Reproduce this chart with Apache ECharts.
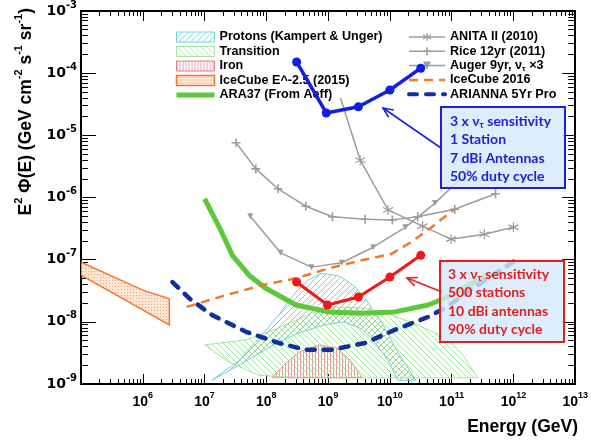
<!DOCTYPE html>
<html>
<head>
<meta charset="utf-8">
<script src="https://cdn.jsdelivr.net/npm/echarts@6/dist/echarts.min.js"></script>
<style>
  html, body { margin: 0; padding: 0; background: #fff; }
  #chart { width: 591px; height: 441px; }
</style>
</head>
<body>
<div id="chart"></div>
<script>
// all values are [log10(E / GeV), log10(E^2 Phi / GeV cm^-2 s^-1 sr^-1)]
var protonsUpper = [[7.12,-8.94],[7.56,-8.62],[7.93,-8.21],[8.20,-7.89],[8.48,-7.52],[8.68,-7.33],[8.89,-7.22],[9.17,-7.26],[9.41,-7.41],[9.60,-7.62],[9.89,-8.05],[10.13,-8.49],[10.42,-8.94]];
var protonsLower = [[7.12,-8.94],[7.64,-8.65],[8.12,-8.37],[8.52,-8.18],[8.93,-8.05],[9.25,-8.00],[9.52,-8.10],[9.73,-8.29],[9.97,-8.62],[10.13,-8.94]];
var transitionUpper = [[7.00,-8.37],[7.67,-8.29],[8.20,-8.10],[8.73,-7.86],[9.17,-7.76],[9.60,-7.78],[10.08,-7.91],[10.45,-8.05],[10.89,-8.25],[11.18,-8.53],[11.42,-8.90]];
var transitionLower = [[7.00,-8.37],[7.40,-8.65],[7.88,-8.86],[8.52,-8.90],[11.42,-8.90]];
var ironUpper = [[8.09,-8.90],[8.28,-8.70],[8.52,-8.49],[8.85,-8.37],[9.14,-8.42],[9.36,-8.62],[9.55,-8.90]];
var ironLower = [[8.09,-8.90],[9.55,-8.90]];
var icecube2015Upper = [[5.00,-7.04],[6.00,-7.49],[6.43,-7.63]];
var icecube2015Lower = [[5.00,-7.25],[6.43,-8.05]];

var ara37 = [[7.00,-6.02],[7.24,-6.48],[7.45,-6.93],[7.72,-7.25],[7.99,-7.46],[8.48,-7.73],[9.01,-7.84],[9.54,-7.86],[10.08,-7.84],[10.62,-7.73],[10.89,-7.62],[11.42,-7.33],[11.58,-7.25]];
var icecube2016 = [[6.71,-7.76],[7.35,-7.57],[7.93,-7.41],[8.48,-7.30],[9.01,-7.14],[9.54,-7.01],[10.02,-6.91],[10.34,-6.72],[10.66,-6.49],[11.03,-6.20]];
var arianna = [[6.48,-7.36],[6.75,-7.62],[7.12,-7.89],[7.67,-8.16],[8.20,-8.34],[8.64,-8.45],[9.05,-8.45],[9.60,-8.34],[10.08,-8.13],[10.62,-7.92],[10.89,-7.78],[11.42,-7.41],[12.11,-6.96]];
var anita = [[9.20,-4.40],[9.52,-5.40],[9.97,-6.20],[10.53,-6.46],[10.99,-6.67],[11.53,-6.59],[12.00,-6.48]];
var rice = [[7.51,-5.12],[7.83,-5.54],[8.19,-5.86],[8.64,-6.14],[9.07,-6.31],[9.60,-6.35],[10.04,-6.36],[10.45,-6.31],[11.05,-6.19],[11.71,-5.94]];
var auger = [[7.74,-6.30],[8.23,-6.89],[8.73,-7.12],[9.22,-7.05],[9.73,-6.80],[10.25,-6.48],[10.73,-6.09],[11.26,-5.59]];
var oneStation = [[8.49,-3.82],[8.97,-4.64],[9.49,-4.54],[10.00,-4.27],[10.50,-3.92]];
var fiveHundred = [[8.49,-7.36],[8.99,-7.73],[9.49,-7.60],[10.00,-7.28],[10.50,-6.93]];

var xMin = 5, xMax = 13, yMin = -9, yMax = -3;

// log-spaced minor ticks (2..9 in each decade)
function minorTicks(lo, hi) {
    var out = [];
    for (var n = lo; n < hi; n++) {
        for (var k = 2; k <= 9; k++) out.push(n + Math.log10(k));
    }
    return out;
}
var xMinor = minorTicks(xMin, xMax);
var yMinor = minorTicks(yMin, yMax);

// small canvas tiles for the hatched bands
function hatch(kind, color, bg) {
    var s = kind === 'vert' ? 3 : (kind === 'dots' ? 3 : 6);
    var c = document.createElement('canvas');
    c.width = s; c.height = s;
    var g = c.getContext('2d');
    if (bg) { g.fillStyle = bg; g.fillRect(0, 0, s, s); }
    g.strokeStyle = color;
    g.lineWidth = 1;
    g.beginPath();
    if (kind === 'up') {
        g.moveTo(0, s); g.lineTo(s, 0);
        g.moveTo(-1, 1); g.lineTo(1, -1);
        g.moveTo(s - 1, s + 1); g.lineTo(s + 1, s - 1);
    } else if (kind === 'down') {
        g.moveTo(0, 0); g.lineTo(s, s);
        g.moveTo(s - 1, -1); g.lineTo(s + 1, 1);
        g.moveTo(-1, s - 1); g.lineTo(1, s + 1);
    } else if (kind === 'vert') {
        g.moveTo(0.5, 0); g.lineTo(0.5, s);
    }
    g.stroke();
    if (kind === 'dots') { g.fillStyle = color; g.fillRect(1, 1, 1, 1); }
    return { image: c, repeat: 'repeat' };
}

var cyanFill = hatch('up', '#74d2de');
var greenFill = hatch('down', '#a6e6a0');
var redFill = hatch('vert', '#eb9aa6');
var orangeFill = hatch('dots', '#f2a574', '#fde6d6');

function band(name, upper, lower, fill, stroke, lw) {
    var pts = upper.concat(lower.slice().reverse());
    return {
        name: name,
        type: 'custom',
        z: 1,
        silent: true,
        clip: true,
        itemStyle: { color: fill, borderColor: stroke, borderWidth: lw },
        data: pts,
        renderItem: function (params, api) {
            if (params.dataIndex !== 0) return null;
            return {
                type: 'polygon',
                shape: { points: pts.map(function (p) { return api.coord(p); }) },
                style: { fill: fill, stroke: stroke, lineWidth: lw }
            };
        }
    };
}

var gray = '#9c9c9c';
var asterisk = 'path://M5,0L5,10M0.7,2.5L9.3,7.5M0.7,7.5L9.3,2.5';
var plus = 'path://M5,0L5,10M0,5L10,5';
var tri = 'path://M0,0L10,0L5,9Z';

function xAx(pos, minor) {
    return {
        type: 'value', min: xMin, max: xMax, interval: 1, position: pos,
        axisLine: { show: !minor, onZero: false, lineStyle: { color: '#000', width: 2 } },
        axisTick: minor ? { inside: true, length: 5, customValues: xMinor, lineStyle: { color: '#000' } }
                        : { inside: true, length: 10, lineStyle: { color: '#000' } },
        axisLabel: (pos === 'bottom' && !minor) ? {
            margin: 7,
            formatter: function (v) { return v < 6 ? '' : '{b|10}{s|' + v + '}'; },
            rich: {
                b: { fontFamily: 'Liberation Sans', fontWeight: 'bold', fontSize: 14, lineHeight: 22, color: '#000' },
                s: { fontFamily: 'Liberation Sans', fontWeight: 'bold', fontSize: 9, lineHeight: 10, verticalAlign: 'top', color: '#000' }
            }
        } : { show: false },
        splitLine: { show: false }
    };
}
function yAx(pos, minor) {
    return {
        type: 'value', min: yMin, max: yMax, interval: 1, position: pos,
        axisLine: { show: !minor, onZero: false, lineStyle: { color: '#000', width: 2 } },
        axisTick: minor ? { inside: true, length: 7, customValues: yMinor, lineStyle: { color: '#000' } }
                        : { inside: true, length: pos === 'left' ? 15 : 13, lineStyle: { color: '#000' } },
        axisLabel: (pos === 'left' && !minor) ? {
            margin: 4,
            formatter: function (v) { return '{b|10}{s|' + v + '}'; },
            rich: {
                b: { fontFamily: 'DejaVu Sans', fontWeight: 'bold', fontSize: 14, lineHeight: 22, color: '#000' },
                s: { fontFamily: 'DejaVu Sans', fontWeight: 'bold', fontSize: 10, lineHeight: 10, verticalAlign: 'top', color: '#000' }
            }
        } : { show: false },
        splitLine: { show: false }
    };
}

function arrow(x1, y1, x2, y2, color) {
    var a = Math.atan2(y2 - y1, x2 - x1), h = 11, w = 0.42;
    return [
        { type: 'line', z: 60, shape: { x1: x1, y1: y1, x2: x2, y2: y2 }, style: { stroke: color, lineWidth: 1.6 } },
        { type: 'polyline', z: 60, shape: { points: [
            [x2 - h * Math.cos(a - w), y2 - h * Math.sin(a - w)], [x2, y2],
            [x2 - h * Math.cos(a + w), y2 - h * Math.sin(a + w)]] },
          style: { stroke: color, lineWidth: 1.6, fill: null } }
    ];
}

function noteBox(x, y, w, h, color, lines, tx, ty) {
    var out = [{ type: 'rect', z: 60, shape: { x: x, y: y, width: w, height: h },
                 style: { fill: 'rgba(214,233,250,0.82)', stroke: color, lineWidth: 2 } }];
    lines.forEach(function (t, i) {
        out.push({
            type: 'text', z: 61, x: tx, y: ty + i * 18.5,
            style: {
                text: t, verticalAlign: 'middle', fill: color,
                rich: {
                    a: { fontFamily: 'Lato', fontWeight: 'bold', fontSize: 14, lineHeight: 18, fill: color },
                    t: { fontFamily: 'Lato', fontWeight: 'bold', fontSize: 9, lineHeight: 8, verticalAlign: 'bottom', fill: color }
                }
            }
        });
    });
    return out;
}

// line-only legend entries: hide the default marker
var noMark = { opacity: 0 };

var chart = echarts.init(document.getElementById('chart'));
chart.setOption({
    animation: false,
    backgroundColor: '#fff',
    grid: { left: 81, right: 13, top: 11, bottom: 57, containLabel: false },
    xAxis: [xAx('bottom', false), xAx('bottom', true), xAx('top', false), xAx('top', true)],
    yAxis: [yAx('left', false), yAx('left', true), yAx('right', false), yAx('right', true)],
    legend: [{
        orient: 'vertical', left: 169, top: 25, itemWidth: 38, itemHeight: 10, itemGap: 0.5, z: 1,
        selectedMode: false,
        textStyle: { fontFamily: 'Liberation Sans', fontWeight: 'bold', fontSize: 12.6, color: '#000', lineHeight: 14 },
        data: [
            { name: 'Protons (Kampert & Unger)', icon: 'rect', itemStyle: { borderColor: '#74d2de', borderWidth: 1 } },
            { name: 'Transition', icon: 'rect', itemStyle: { borderColor: '#a6e6a0', borderWidth: 1 } },
            { name: 'Iron', icon: 'rect', itemStyle: { borderColor: '#e07a8a', borderWidth: 1 } },
            { name: 'IceCube E^-2.5 (2015)', icon: 'rect', itemStyle: { borderColor: '#ee7a30', borderWidth: 1.5 } },
            { name: 'ARA37 (From Aeff)', lineStyle: { width: 5 }, itemStyle: noMark }
        ]
    }, {
        orient: 'vertical', left: 402, top: 25, itemWidth: 36, itemHeight: 10, itemGap: 0.3, z: 1,
        selectedMode: false,
        textStyle: {
            fontFamily: 'Liberation Sans', fontWeight: 'bold', fontSize: 12.6, color: '#000', lineHeight: 14,
            rich: {
                a: { fontFamily: 'Liberation Sans', fontWeight: 'bold', fontSize: 12.6, lineHeight: 14, color: '#000' },
                t: { fontFamily: 'Liberation Sans', fontWeight: 'bold', fontSize: 8, lineHeight: 6, verticalAlign: 'bottom', color: '#000' }
            }
        },
        formatter: function (name) {
            return name === 'Auger 9yr' ? '{a|Auger 9yr, ν}{t|τ}{a| ×3}' : name;
        },
        data: [
            { name: 'ANITA II (2010)', lineStyle: { width: 1.5 }, itemStyle: { borderColor: gray, borderWidth: 1.2 } },
            { name: 'Rice 12yr (2011)', lineStyle: { width: 1.5 }, itemStyle: { borderColor: gray, borderWidth: 1.6 } },
            { name: 'Auger 9yr', lineStyle: { width: 1.5 } },
            { name: 'IceCube 2016', lineStyle: { width: 2.5 }, itemStyle: noMark },
            { name: 'ARIANNA 5Yr Pro', lineStyle: { width: 4 }, itemStyle: noMark }
        ]
    }],
    series: [
        band('Transition', transitionUpper, transitionLower, greenFill, '#a6e6a0', 1),
        band('Protons (Kampert & Unger)', protonsUpper, protonsLower, cyanFill, '#74d2de', 1),
        band('Iron', ironUpper, ironLower, redFill, '#eb9aa6', 1),
        band('IceCube E^-2.5 (2015)', icecube2015Upper, icecube2015Lower, orangeFill, '#ee7a30', 1.5),
        {
            name: 'ARA37 (From Aeff)', type: 'line', z: 3, data: ara37, showSymbol: false, symbol: 'none',
            lineStyle: { color: '#5cc83a', width: 5 }, itemStyle: { color: '#5cc83a' }
        },
        {
            name: 'ANITA II (2010)', type: 'line', z: 4,
            data: anita.map(function (p, i) { return i === 0 ? { value: p, symbol: 'none' } : p; }),
            symbol: asterisk, symbolSize: 10,
            lineStyle: { color: gray, width: 1.5 }, itemStyle: { color: gray, borderColor: gray, borderWidth: 1.2 }
        },
        {
            name: 'Rice 12yr (2011)', type: 'line', z: 4, data: rice, symbol: plus, symbolSize: 9,
            lineStyle: { color: gray, width: 1.5 }, itemStyle: { color: gray, borderColor: gray, borderWidth: 1.6 }
        },
        {
            name: 'Auger 9yr', type: 'line', z: 4, data: auger, symbol: tri, symbolSize: 6,
            lineStyle: { color: gray, width: 1.5 }, itemStyle: { color: gray }
        },
        {
            name: 'IceCube 2016', type: 'line', z: 5, data: icecube2016, symbol: 'none',
            lineStyle: { color: '#f07a26', width: 2.5, type: [9, 6] }, itemStyle: { color: '#f07a26' }
        },
        {
            name: 'ARIANNA 5Yr Pro', type: 'line', z: 5, data: arianna, symbol: 'none',
            lineStyle: { color: '#12309c', width: 4.5, type: [8, 9], cap: 'round' }, itemStyle: { color: '#12309c' }
        },
        {
            name: '500 stations', type: 'line', z: 6, data: fiveHundred, symbol: 'circle', symbolSize: 9,
            lineStyle: { color: '#f01818', width: 3 }, itemStyle: { color: '#f01818' }
        },
        {
            name: '1 Station', type: 'line', z: 6, data: oneStation, symbol: 'circle', symbolSize: 9,
            lineStyle: { color: '#0f1fe6', width: 3.5 }, itemStyle: { color: '#0f1fe6' }
        }
    ],
    graphic: [].concat(
        arrow(441, 148, 383, 108, '#1f1fe0'),
        arrow(442, 292, 407, 278, '#e02424'),
        noteBox(441, 107, 124, 81, '#2020dc',
            ['{a|3 x ν}{t|τ}{a| sensitivity}', '{a|1 Station}', '{a|7 dBi Antennas}', '{a|50% duty cycle}'], 450, 121),
        noteBox(440, 261, 124, 81, '#e02020',
            ['{a|3 x ν}{t|τ}{a| sensitivity}', '{a|500 stations}', '{a|10 dBi antennas}', '{a|90% duty cycle}'], 448, 274),
        [{
            type: 'text', x: 26, y: 8, rotation: Math.PI / 2,
            style: {
                text: '{a|E}{s|2}{a| Φ(E) (GeV cm}{s|-2}{a| s}{s|-1}{a| sr}{s|-1}{a|)}',
                align: 'right', verticalAlign: 'middle',
                rich: {
                    a: { fontFamily: 'Liberation Sans', fontWeight: 'bold', fontSize: 17.5, lineHeight: 26, fill: '#000' },
                    s: { fontFamily: 'Liberation Sans', fontWeight: 'bold', fontSize: 11, lineHeight: 12, verticalAlign: 'top', fill: '#000' }
                }
            }
        }, {
            type: 'text', x: 578, y: 427,
            style: {
                text: 'Energy (GeV)', align: 'right', verticalAlign: 'middle',
                font: 'bold 17.5px "Liberation Sans"', fill: '#000'
            }
        }]
    )
});
</script>
</body>
</html>
